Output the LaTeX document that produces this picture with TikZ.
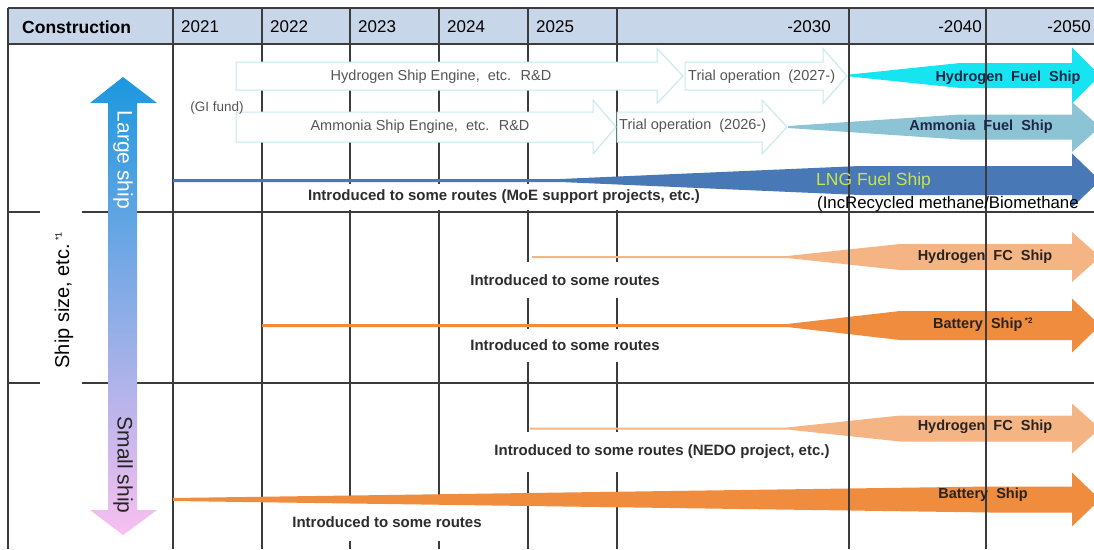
\documentclass[tikz,border=0pt]{standalone}
\usepackage{fontspec}
\setmainfont{Liberation Sans}
\newcommand\fsz[1]{\fontsize{#1}{#1}\selectfont}
\definecolor{headc}{RGB}{200,214,234}
\definecolor{gridc}{RGB}{60,60,60}
\definecolor{wline}{RGB}{195,232,238}
\definecolor{h2c}{RGB}{22,228,240}
\definecolor{nh3c}{RGB}{140,196,214}
\definecolor{lngc}{RGB}{72,120,182}
\definecolor{fcc}{RGB}{245,180,132}
\definecolor{batc}{RGB}{240,140,62}
\definecolor{lnglab}{RGB}{200,228,80}
\definecolor{navy}{RGB}{30,40,70}
\definecolor{darktxt}{RGB}{40,36,34}
\definecolor{boxtxt}{RGB}{45,45,45}
\definecolor{graytxt}{RGB}{85,85,85}
\definecolor{bluetop}{RGB}{28,152,222}
\definecolor{midsh}{RGB}{125,170,240}
\definecolor{pinkbot}{RGB}{248,192,240}
% tapered arrow: #1 colour, #2 x0, #3 xa, #4 xb, #5 yc, #6 tail half, #7 shaft half, #8 head half
\newcommand\taparrow[8]{%
  \fill[#1] (#2,{#5-#6}) -- (#3,{#5-#6}) -- (#4,{#5-#7}) -- (1072,{#5-#7}) -- (1072,{#5-#8})
    -- (1100,#5) -- (1072,{#5+#8}) -- (1072,{#5+#7}) -- (#4,{#5+#7}) -- (#3,{#5+#6})
    -- (#2,{#5+#6}) -- cycle;}
% block arrow: #1 x0, #2 head base, #3 tip, #4 yc, #5 shaft half, #6 head half
\newcommand\blkarrow[6]{%
  \filldraw[blk] (#1,{#4-#5}) -- (#2,{#4-#5}) -- (#2,{#4-#6}) -- (#3,#4) -- (#2,{#4+#6})
    -- (#2,{#4+#5}) -- (#1,{#4+#5}) -- cycle;}
\begin{document}
\begin{tikzpicture}[x=1pt,y=-1pt,
  gridline/.style={draw=gridc, line width=1.4pt},
  blk/.style={fill=white, draw=wline, line width=1pt},
  wbox/.style={fill=white, inner xsep=4pt, inner ysep=0pt, font=\fsz{15}\bfseries, text=boxtxt},
  rdtxt/.style={font=\fsz{14.5}, text=graytxt, inner sep=0pt},
  shiplab/.style={font=\fsz{14.5}\bfseries, text=darktxt, inner sep=0pt},
  hdr/.style={font=\fsz{17}, inner sep=0pt, anchor=west},
]
\useasboundingbox (0,0) rectangle (1094,549);
\clip (0,0) rectangle (1094,549);
% header band
\fill[headc] (8,8) rectangle (1094,44);
% grid
\foreach \x in {8,173,262,350,439,528,617} \draw[gridline] (\x,8) -- (\x,549);
\draw[gridline] (8,8) -- (1094,8) (8,44) -- (1094,44);
\draw[gridline] (8,212) -- (40,212) (82,212) -- (1094,212);
\draw[gridline] (8,383) -- (40,383) (82,383) -- (1094,383);
% header texts
\node[hdr, font=\fsz{17.5}\bfseries] (hc) at (22,27) {Construction};
\node[hdr] (y21) at (181,27) {2021};
\node[hdr] (y22) at (270,27) {2022};
\node[hdr] (y23) at (358,27) {2023};
\node[hdr] (y24) at (447,27) {2024};
\node[hdr] (y25) at (536,27) {2025};
\node[hdr, anchor=east] (y30) at (831,27) {-2030};
\node[hdr, anchor=east] (y40) at (982,27) {-2040};
\node[hdr, anchor=east] (y50) at (1091,27) {-2050};
% white label boxes (hide grid)
\node[wbox, minimum height=26pt] (moe) at (504,197) {Introduced to some routes (MoE support projects, etc.)};
\node[wbox, minimum height=36pt] (int1) at (565,280) {Introduced to some routes};
\node[wbox, minimum height=33pt] (int2) at (565,345) {Introduced to some routes};
\node[wbox, minimum height=40pt] (nedo) at (662,452) {Introduced to some routes (NEDO project, etc.)};
\node[wbox, minimum height=38pt] (int3) at (387,522) {Introduced to some routes};
% white R&D / trial arrows
\blkarrow{236}{657}{683}{76}{14}{27.5}
\blkarrow{685}{823}{847}{76}{14}{27.5}
\blkarrow{236}{593}{616}{127}{15}{27}
\blkarrow{617}{762}{787}{127}{15}{27}
% coloured arrows
\taparrow{h2c}{850}{850}{960}{75.5}{1}{12.5}{28}
\taparrow{nh3c}{788}{788}{960}{127}{1}{12.5}{25}
\taparrow{lngc}{173}{560}{860}{180.5}{1.5}{14.5}{27}
\taparrow{fcc}{532}{787}{900}{257}{1}{13}{25}
\taparrow{batc}{262}{787}{900}{325.5}{1.5}{14.5}{27}
\taparrow{fcc}{530}{787}{900}{428.5}{1}{13}{25}
\taparrow{batc}{173}{173}{990}{499.5}{1.5}{13}{27}
% grid lines visible over the coloured arrows
\foreach \x in {849,986} \draw[gridline] (\x,8) -- (\x,549);
% texts on arrows
\node[rdtxt] (h2rd) at (441,77) {Hydrogen Ship Engine, \ etc. \ R\&D};
\node[rdtxt, anchor=west] (tr27) at (688,77) {Trial operation \ (2027-)};
\node[rdtxt] (nh3rd) at (420,127) {Ammonia Ship Engine, \ etc. \ R\&D};
\node[rdtxt, anchor=west] (tr26) at (619,126) {Trial operation \ (2026-)};
\node[rdtxt, font=\fsz{13.5}] (gi) at (217,108) {(GI fund)};
\node[shiplab, text=navy] (h2l) at (1008,78) {Hydrogen \ Fuel \ Ship};
\node[shiplab, text=navy] (nh3l) at (981,127) {Ammonia \ Fuel \ Ship};
\node[inner sep=0pt, anchor=west, font=\fsz{17.5}, text=lnglab] (lngl) at (816,181) {LNG Fuel Ship};
\node[inner sep=0pt, anchor=west, font=\fsz{16.8}] (recy) at (817,204) {(IncRecycled methane/Biomethane};
\node[shiplab] (fc1) at (985,257) {Hydrogen \ FC \ Ship};
\node[shiplab] (bat1) at (983,325) {Battery \ Ship\,\textsuperscript{\fsz{8}*2}};
\node[shiplab] (fc2) at (985,427) {Hydrogen \ FC \ Ship};
\node[shiplab] (bat2) at (983,495) {Battery \ Ship};
% left column: gradient size arrow
\shade[top color=bluetop, middle color=midsh, bottom color=pinkbot]
  (108,103) -- (90,103) -- (123,77) -- (157,103) -- (137,103) -- (137,510)
  -- (157,510) -- (123,535) -- (90,510) -- (108,510) -- cycle;
\node[rotate=-90, inner sep=0pt, font=\fsz{21}, text=white] (large) at (123,160) {Large ship};
\node[rotate=-90, inner sep=0pt, font=\fsz{21}, text=darktxt] (small) at (123,465) {Small ship};
\node[rotate=90, inner sep=0pt, font=\fsz{20}, text=black] (size) at (64,300) {Ship size, etc.\,\textsuperscript{\fsz{9}*1}};
\end{tikzpicture}
\end{document}
